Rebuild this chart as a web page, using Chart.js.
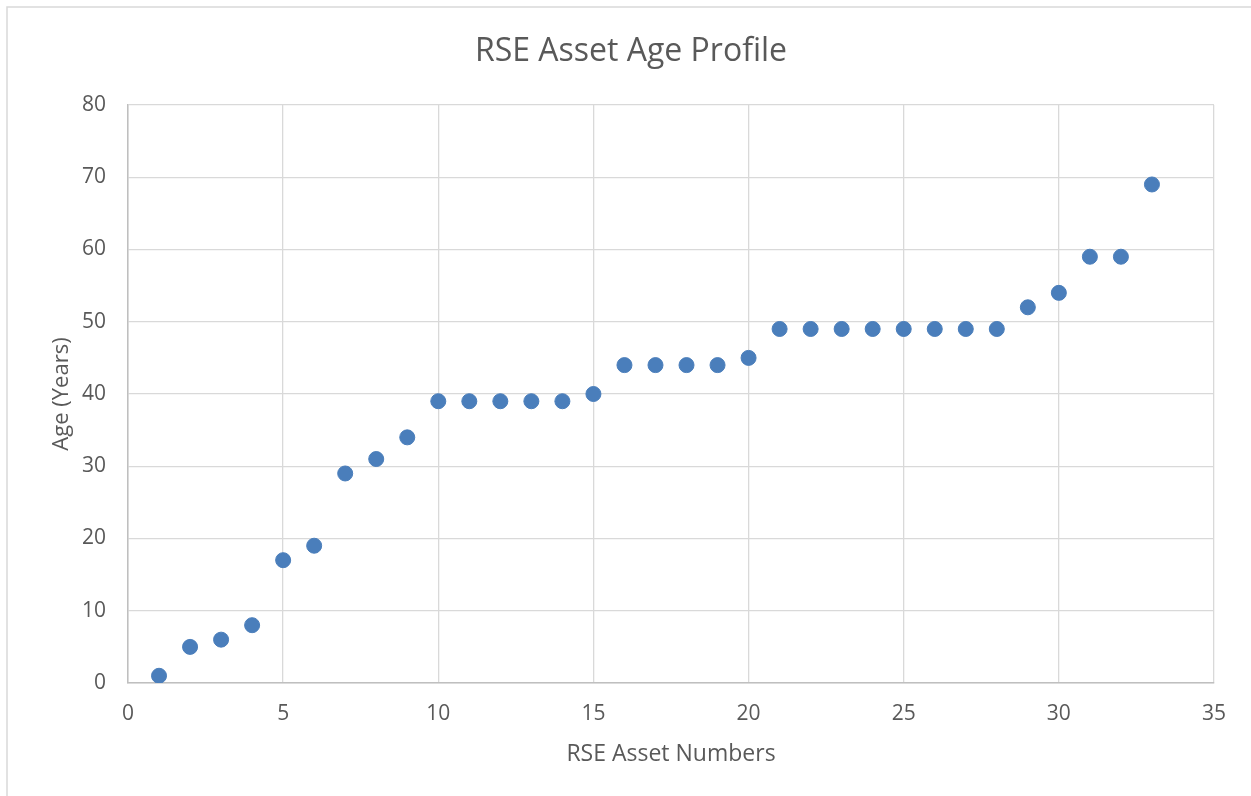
<!DOCTYPE html>
<html>
<head>
<meta charset="utf-8">
<title>RSE Asset Age Profile</title>
<script src="https://cdn.jsdelivr.net/npm/chart.js@4/dist/chart.umd.min.js"></script>
<style>
  html, body { margin: 0; padding: 0; background: #fff; }
  canvas { display: block; }
</style>
</head>
<body>
<canvas id="ageChart" width="1251" height="796"></canvas>
<script>
// Asset numbers and their age in years
const assetNumbers = [1, 2, 3, 4, 5, 6, 7, 8, 9, 10, 11, 12, 13, 14, 15, 16, 17,
    18, 19, 20, 21, 22, 23, 24, 25, 26, 27, 28, 29, 30, 31, 32, 33];
const assetAges = [1, 5, 6, 8, 17, 19, 29, 31, 34, 39, 39, 39, 39, 39, 40, 44, 44,
    44, 44, 45, 49, 49, 49, 49, 49, 49, 49, 49, 52, 54, 59, 59, 69];

const xTicks = [0, 5, 10, 15, 20, 25, 30, 35];
const yTicks = [0, 10, 20, 30, 40, 50, 60, 70, 80];

const points = assetNumbers.map((n, i) => ({ x: n, y: assetAges[i] }));

const fontFamily = "'Open Sans', 'Noto Sans', sans-serif";
const textColor = "#595959";
const gridColor = "#d9d9d9";

// outer frame of the chart (only left/top edges are inside the picture)
const framePlugin = {
    id: "frame",
    beforeDraw(chart) {
        const ctx = chart.ctx;
        ctx.save();
        ctx.fillStyle = "#fff";
        ctx.fillRect(0, 0, chart.width, chart.height);
        ctx.strokeStyle = "#d9d9d9";
        ctx.lineWidth = 1.5;
        ctx.strokeRect(7, 7, chart.width + 20, chart.height + 20);
        ctx.restore();
    }
};

const ctx = document.getElementById("ageChart").getContext("2d");
new Chart(ctx, {
    type: "scatter",
    data: {
        datasets: [{
            label: "Age",
            data: points,
            backgroundColor: "#4a7ebb",
            borderColor: "#4a7ebb",
            pointRadius: 7.5,
            pointHoverRadius: 7.5
        }]
    },
    options: {
        responsive: false,
        animation: false,
        layout: { padding: { left: 48, right: 37, top: 0, bottom: 0 } },
        plugins: {
            legend: { display: false },
            tooltip: { enabled: false },
            title: {
                display: true,
                text: "RSE Asset Age Profile",
                color: textColor,
                font: { family: fontFamily, size: 32, weight: "normal" },
                padding: { top: 33, bottom: 33.6 }
            }
        },
        scales: {
            x: {
                type: "linear",
                min: xTicks[0],
                max: xTicks[xTicks.length - 1],
                afterBuildTicks: (scale) => { scale.ticks = xTicks.map(v => ({ value: v })); },
                afterFit: (scale) => { scale.height = 113; },
                ticks: {
                    color: textColor,
                    font: { family: fontFamily, size: 21 },
                    padding: 18
                },
                grid: { color: gridColor, lineWidth: 1.3, drawTicks: false },
                border: { color: "#bfbfbf", width: 1.5 },
                title: {
                    display: true,
                    text: "RSE Asset Numbers",
                    color: textColor,
                    font: { family: fontFamily, size: 23 },
                    padding: { top: 0, bottom: 28 }
                }
            },
            y: {
                type: "linear",
                min: yTicks[0],
                max: yTicks[yTicks.length - 1],
                afterBuildTicks: (scale) => { scale.ticks = yTicks.map(v => ({ value: v })); },
                afterFit: (scale) => { scale.width = 80; },
                ticks: {
                    color: textColor,
                    font: { family: fontFamily, size: 21 },
                    padding: 22
                },
                grid: { color: gridColor, lineWidth: 1.3, drawTicks: false },
                border: { color: "#bfbfbf", width: 1.5 },
                title: {
                    display: true,
                    text: "Age (Years)",
                    color: textColor,
                    font: { family: fontFamily, size: 22 },
                    padding: { top: 1, bottom: 0 }
                }
            }
        }
    },
    plugins: [framePlugin]
});
</script>
</body>
</html>
